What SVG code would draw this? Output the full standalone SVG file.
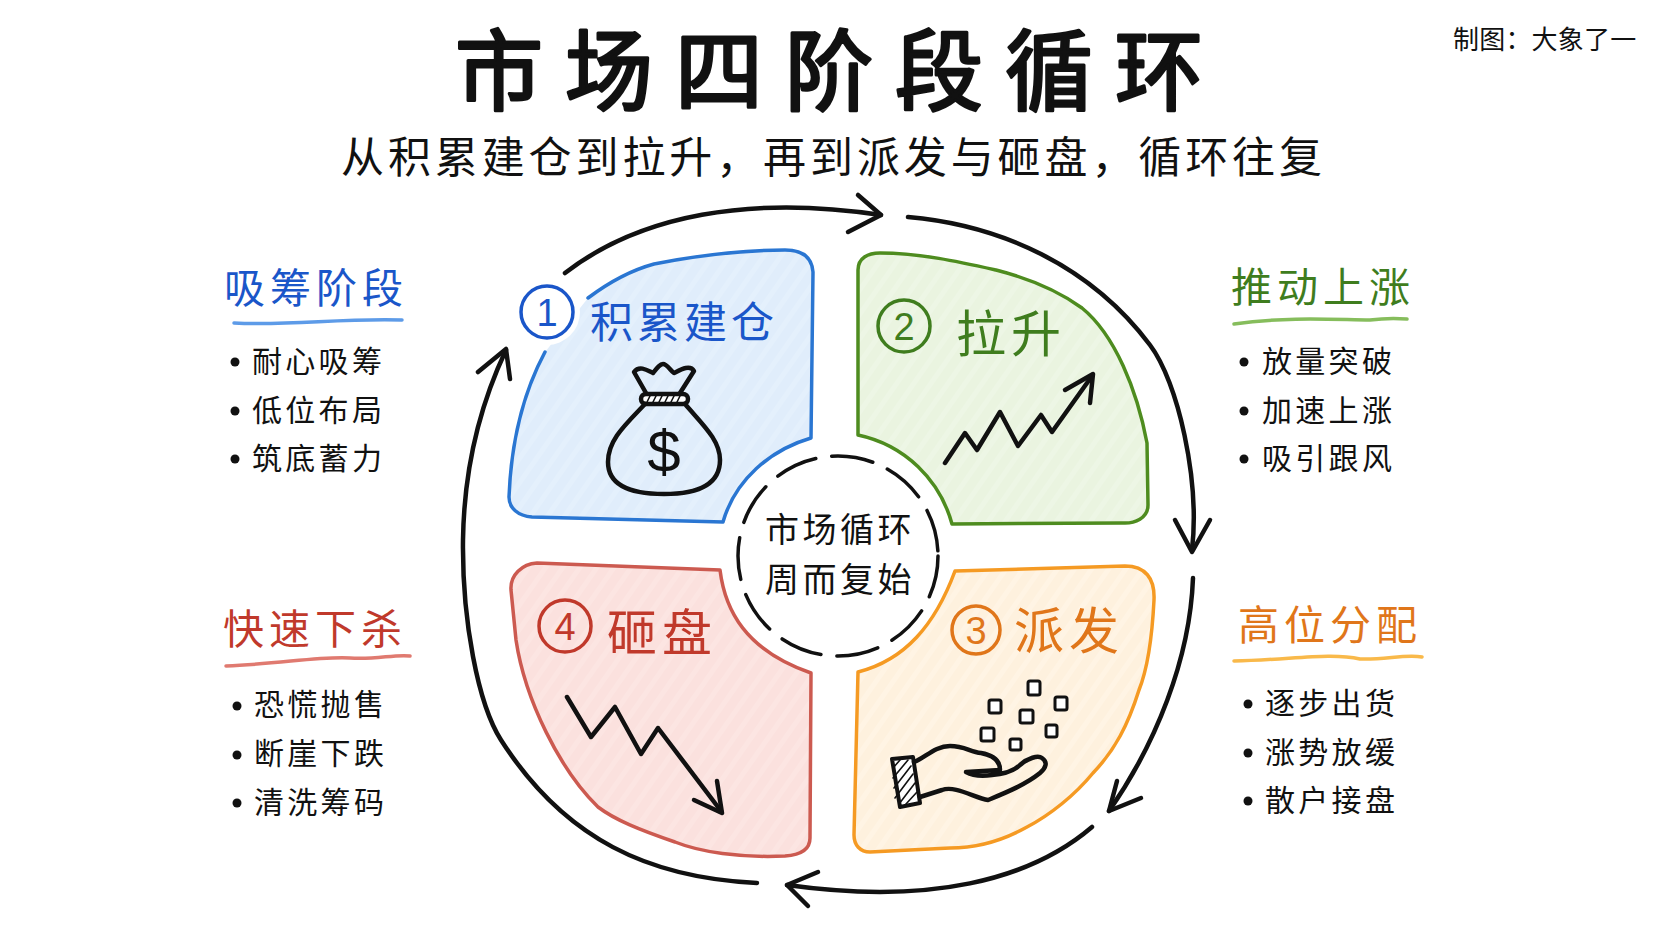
<svg xmlns="http://www.w3.org/2000/svg" width="1672" height="941" viewBox="0 0 1672 941">
<style>
text{font-family:"Noto Sans CJK SC","Noto Sans",sans-serif;fill:#111}
.title{font-size:88px;letter-spacing:22px;stroke:#111;stroke-width:3;stroke-linejoin:round}
.sub{font-size:43px;letter-spacing:3.9px}
.credit{font-size:26px;letter-spacing:.2px}
.head{font-size:41px;letter-spacing:5px}
.item{font-size:30px;letter-spacing:3.3px}
.center{font-size:34px;letter-spacing:3.5px;text-anchor:middle}
.stage{font-size:50px;letter-spacing:5px}
.num{font-family:"Liberation Sans",sans-serif;font-size:38px;text-anchor:middle}
.blue{fill:#1a56c9}.green{fill:#3f7d1e}.red{fill:#c0392b}.orange{fill:#e0761a}
.edge{fill:none;stroke-linecap:round;stroke-linejoin:round;stroke-width:3.5}
.rule{fill:none;stroke-linecap:round;stroke-width:3.5}
.ink{fill:none;stroke:#111;stroke-width:4.5;stroke-linecap:round;stroke-linejoin:round}
.thin{fill:none;stroke:#111;stroke-width:1.6;stroke-linecap:round}
.box{fill:#fff;stroke:#111;stroke-width:3;stroke-linejoin:round}
.dot{fill:#111}
</style>
<defs>
<pattern id="hb" width="14" height="14" patternUnits="userSpaceOnUse" patternTransform="rotate(-55)"><rect width="14" height="14" fill="#e0edfb"/><rect width="14" height="5" fill="#e4f0fc"/></pattern>
<pattern id="hg" width="14" height="14" patternUnits="userSpaceOnUse" patternTransform="rotate(-55)"><rect width="14" height="14" fill="#eaf4e0"/><rect width="14" height="5" fill="#edf6e5"/></pattern>
<pattern id="hr" width="14" height="14" patternUnits="userSpaceOnUse" patternTransform="rotate(-55)"><rect width="14" height="14" fill="#fbe1de"/><rect width="14" height="5" fill="#fce5e2"/></pattern>
<pattern id="ho" width="14" height="14" patternUnits="userSpaceOnUse" patternTransform="rotate(-55)"><rect width="14" height="14" fill="#fef1de"/><rect width="14" height="5" fill="#fff4e4"/></pattern>
</defs>
<rect width="1672" height="941" fill="#fff"/>
<g id="title"><text class="title" x="455" y="103">市场四阶段循环</text></g>
<g id="subtitle"><text class="sub" x="341" y="173">从积累建仓到拉升，再到派发与砸盘，循环往复</text></g>
<g id="credit"><text class="credit" x="1453" y="49">制图：大象了一</text></g>

<g id="connectors" class="ink">
<path d="M565,273 C640,215 750,195 881,215"/><path d="M858,195 L881,215 L848,232"/>
<path d="M908,217 C1000,225 1090,265 1150,345 C1178,382 1200,480 1192,550"/><path d="M1175,520 L1192,552 L1210,520"/>
<path d="M1193,578 C1190,660 1155,745 1109,811"/><path d="M1117,781 L1109,811 L1141,798"/>
<path d="M1092,827 C1030,880 930,905 787,885"/><path d="M818,872 L787,885 L808,906"/>
<path d="M757,883 C650,878 565,840 501,740 C478,704 462,620 463,540 C464,470 480,405 506,350"/><path d="M478,372 L506,349 L510,379"/>
</g>

<g id="stage1">
<path d="M588,298 C612,280 632,270 654,264 C700,255 745,250 785,250 C804,250 812,258 813,272 L811,438 C770,450 735,480 723,522 L532,517 C518,516 509,508 509,497 C511,445 522,395 545,352 Z" fill="url(#hb)"/>
<path class="edge" stroke="#2a76d2" d="M588,298 C612,280 632,270 654,264 C700,255 745,250 785,250 C804,250 812,258 813,272 L811,438 C770,450 735,480 723,522 L532,517 C518,516 509,508 509,497 C511,445 522,395 545,352"/>
<circle cx="547" cy="312" r="33" fill="#fff"/>
<circle cx="547" cy="312" r="26" fill="#fff" stroke="#1a56c9" stroke-width="3.5"/>
<text class="num blue" x="547" y="326">1</text>
<text class="stage blue" x="590" y="338" style="font-size:43px;letter-spacing:4px">积累建仓</text>
<g id="money-bag">
<path class="ink" d="M646,393 L634,372 C640,364 650,372 653,373 C657,368 660,364 663,364 C667,364 670,370 674,373 C680,370 690,364 694,371 L680,393"/>
<rect x="641" y="394" width="47" height="10" rx="5" fill="#fff" stroke="#111" stroke-width="4.5"/>
<path class="thin" d="M647,402 L650,396 M653,402 L656,396 M659,402 L662,396 M665,402 L668,396 M671,402 L674,396 M677,402 L680,396"/>
<path class="ink" d="M645,404 C625,425 608,440 608,462 C608,482 625,494 664,494 C703,494 720,482 720,460 C720,440 703,425 685,404"/>
<text x="664" y="472" text-anchor="middle" style="font-family:'Liberation Sans',sans-serif;font-size:60px">$</text>
</g>
</g>

<g id="stage2">
<path class="edge" style="fill:url(#hg)" stroke="#4e8c1f" d="M880,253 C920,253 960,262 996,270 C1035,280 1060,292 1082,308 C1115,335 1137,390 1147,443 L1148,505 C1148,518 1135,524 1122,523 L952,524 C940,480 905,445 858,435 L858,270 C858,258 868,253 880,253 Z"/>
<circle cx="904" cy="326" r="26" fill="none" stroke="#3f7d1e" stroke-width="3.5"/>
<text class="num green" x="904" y="340">2</text>
<text class="stage green" x="956" y="352">拉升</text>
<path class="ink" d="M945,463 L965,433 L977,450 L1000,412 L1018,446 L1041,415 L1052,432 L1092,376"/><path class="ink" d="M1065,390 L1093,374 L1090,403"/>
</g>

<g id="stage3">
<path class="edge" style="fill:url(#ho)" stroke="#f59a23" d="M955,571 L1125,566 C1145,566 1155,578 1154,600 C1152,640 1147,670 1139,690 C1128,725 1115,750 1093,773 C1075,795 1050,815 1027,827 C1000,842 975,848 950,848 L870,852 C860,852 854,845 854,835 L858,672 C905,660 935,625 955,571 Z"/>
<circle cx="976" cy="630" r="24" fill="none" stroke="#e0761a" stroke-width="3.5"/>
<text class="num orange" x="976" y="644">3</text>
<text class="stage orange" x="1014" y="649">派发</text>
<g id="hand">
<rect class="box" x="1028" y="681" width="12" height="14" rx="2"/><rect class="box" x="989" y="700" width="12" height="13" rx="2"/><rect class="box" x="1055" y="697" width="12" height="13" rx="2"/><rect class="box" x="1020" y="710" width="13" height="13" rx="2"/><rect class="box" x="981" y="728" width="13" height="13" rx="2"/><rect class="box" x="1046" y="725" width="11" height="12" rx="2"/><rect class="box" x="1010" y="739" width="11" height="11" rx="2"/>
<path d="M892,759 L913,757 L920,803 L900,807 Z" fill="#fff" stroke="#111" stroke-width="4" stroke-linejoin="round"/>
<path class="thin" d="M893,768 L900,760 M893,778 L908,760 M894,788 L911,766 M895,798 L913,774 M899,804 L915,783 M906,804 L917,792"/>
<path class="ink" d="M914,762 C925,758 935,746 950,746 C965,746 970,752 981,753 C992,755 1000,760 1000,770 L966,772 C975,777 985,776 992,775 C1005,774 1015,770 1020,765 C1028,758 1038,755 1042,758 C1048,762 1046,768 1040,773 C1025,785 1005,793 988,800 C975,798 955,785 942,790 L920,797"/>
</g>
</g>

<g id="stage4">
<path class="edge" style="fill:url(#hr)" stroke="#cc5a50" d="M537,563 L720,570 C725,610 745,650 811,673 L810,838 C810,850 800,855 785,856 C740,858 700,852 675,842 C640,830 615,820 598,807 C560,770 525,700 516,640 L511,590 C510,575 522,564 537,563 Z"/>
<circle cx="565" cy="626" r="26" fill="none" stroke="#c0392b" stroke-width="3.5"/>
<text class="num red" x="565" y="640">4</text>
<text class="stage red" x="607" y="651">砸盘</text>
<path class="ink" d="M567,697 L591,737 L615,707 L641,754 L658,728 L721,811"/><path class="ink" d="M694,800 L722,813 L717,781"/>
</g>

<g id="center">
<circle cx="838" cy="556" r="100" fill="#fff" stroke="#111" stroke-width="3.5" stroke-dasharray="42 16" stroke-linecap="round"/>
<text class="center" x="840" y="542">市场循环</text>
<text class="center" x="840" y="592">周而复始</text>
</g>

<g id="note1">
<text class="head blue" x="224" y="303">吸筹阶段</text>
<path class="rule" stroke="#5d9be8" d="M234,323 C290,326 340,318 402,320"/>
<circle class="dot" cx="235" cy="362" r="4.5"/><text class="item" x="252" y="372">耐心吸筹</text>
<circle class="dot" cx="235" cy="411" r="4.5"/><text class="item" x="252" y="421">低位布局</text>
<circle class="dot" cx="235" cy="459" r="4.5"/><text class="item" x="252" y="469">筑底蓄力</text>
</g>
<g id="note2">
<text class="head green" x="1231" y="302">推动上涨</text>
<path class="rule" stroke="#86bd5c" d="M1234,324 C1290,316 1340,320 1370,320 C1385,318 1395,318 1407,319"/>
<circle class="dot" cx="1244" cy="362" r="4.5"/><text class="item" x="1262" y="372">放量突破</text>
<circle class="dot" cx="1244" cy="411" r="4.5"/><text class="item" x="1262" y="421">加速上涨</text>
<circle class="dot" cx="1244" cy="459" r="4.5"/><text class="item" x="1262" y="469">吸引跟风</text>
</g>
<g id="note3">
<text class="head orange" x="1238" y="640">高位分配</text>
<path class="rule" stroke="#f9b94a" d="M1234,661 C1290,660 1330,652 1360,659 C1385,660 1405,654 1422,657"/>
<circle class="dot" cx="1248" cy="704" r="4.5"/><text class="item" x="1265" y="714">逐步出货</text>
<circle class="dot" cx="1248" cy="753" r="4.5"/><text class="item" x="1265" y="763">涨势放缓</text>
<circle class="dot" cx="1248" cy="801" r="4.5"/><text class="item" x="1265" y="811">散户接盘</text>
</g>
<g id="note4">
<text class="head red" x="223" y="644">快速下杀</text>
<path class="rule" stroke="#e07a70" d="M226,666 C280,664 320,656 350,658 C375,660 395,654 410,656"/>
<circle class="dot" cx="237" cy="706" r="4.5"/><text class="item" x="254" y="715">恐慌抛售</text>
<circle class="dot" cx="237" cy="755" r="4.5"/><text class="item" x="254" y="764">断崖下跌</text>
<circle class="dot" cx="237" cy="803" r="4.5"/><text class="item" x="254" y="813">清洗筹码</text>
</g>
</svg>
